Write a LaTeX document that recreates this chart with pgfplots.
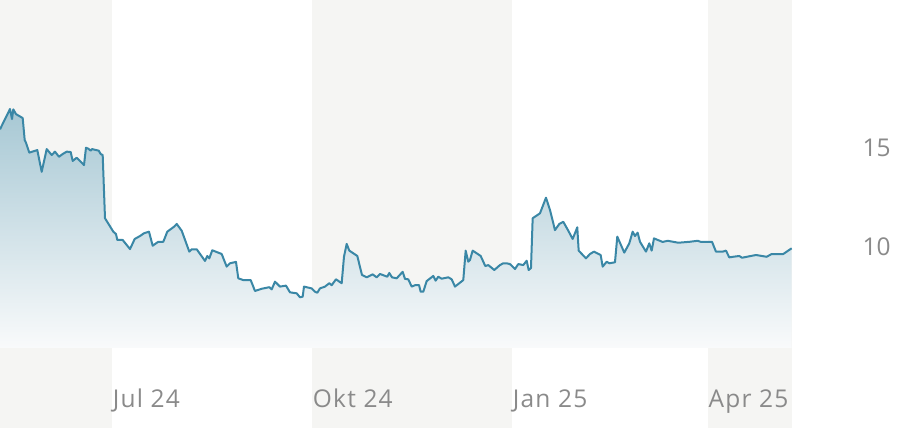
\documentclass[border=0pt]{standalone}
\usepackage{pgfplots}
\pgfplotsset{compat=1.18}
\usepackage{pgfplotstable}
\usepackage{fontspec}
\setmainfont{Open Sans}
\newfontfamily\xlabfont{Open Sans}[LetterSpace=5]
\definecolor{band}{HTML}{F5F5F3}
\definecolor{linec}{HTML}{3A87A6}
\definecolor{filltop}{HTML}{A7C8D4}
\definecolor{fillbot}{HTML}{F9FAFB}
\definecolor{lab}{HTML}{8A8A8A}
\pgfplotsset{
  frame/.style={
    at={(0pt,80pt)}, anchor=south west,
    scale only axis, width=792.4pt, height=348pt,
    xmin=-51.52, xmax=313, ymin=4.853, ymax=22.465,
    clip=false,
    axis line style={draw=none},
    tick style={draw=none},
    major tick length=0pt,
  },
}
% day offset from 1 Jul 2024, price
\pgfplotstableread{
d v
-51.52 15.92
-46.92 16.95
-46.00 16.44
-45.40 16.93
-44.16 16.69
-41.08 16.49
-40.16 15.38
-39.56 15.24
-38.04 14.74
-34.36 14.87
-32.34 13.77
-30.04 14.92
-27.74 14.62
-26.22 14.79
-24.38 14.53
-22.68 14.67
-20.84 14.79
-19.00 14.77
-18.08 14.32
-16.24 14.48
-12.88 14.11
-11.96 14.99
-10.90 14.94
-9.80 14.84
-9.20 14.92
-6.12 14.84
-5.20 14.67
-4.28 14.62
-3.22 11.42
0.60 10.74
1.84 10.62
2.44 10.32
4.92 10.32
8.28 9.86
10.44 10.37
12.88 10.52
14.72 10.66
17.02 10.74
18.72 10.03
21.30 10.23
23.60 10.23
25.44 10.74
28.52 10.99
29.76 11.13
32.06 10.79
35.56 9.73
36.66 9.85
38.96 9.85
42.78 9.26
43.84 9.51
44.76 9.39
46.14 9.80
50.46 9.61
52.76 8.97
54.28 9.14
57.04 9.21
58.10 8.38
60.40 8.29
63.80 8.29
65.78 7.74
68.86 7.85
72.36 7.93
73.46 7.82
74.98 8.21
77.28 7.96
80.04 8.01
81.88 7.67
84.96 7.62
86.48 7.42
87.72 7.45
88.32 7.96
91.86 7.87
93.38 7.70
94.44 7.65
95.68 7.87
97.98 7.96
99.96 8.13
101.06 8.03
103.04 8.33
105.66 8.13
106.72 9.47
107.96 10.12
109.16 9.78
112.84 9.51
115.00 8.55
117.16 8.43
119.92 8.58
121.76 8.43
123.28 8.60
126.64 8.46
127.56 8.65
128.80 8.43
130.96 8.38
133.72 8.71
134.78 8.35
136.30 8.33
137.86 7.96
139.38 8.03
141.22 8.04
142.00 7.70
143.20 7.70
144.76 8.24
147.80 8.50
148.90 8.26
150.10 8.46
151.66 8.36
154.70 8.43
156.26 8.33
157.78 7.96
161.60 8.29
162.70 9.78
163.90 9.22
164.68 9.31
165.92 9.78
169.60 9.51
171.72 9.00
173.10 9.05
175.86 8.80
178.48 9.05
180.00 9.14
181.56 9.14
183.08 9.10
185.38 8.85
186.90 9.10
189.20 9.05
190.76 9.27
191.68 8.80
192.74 8.90
193.52 11.42
196.88 11.67
199.64 12.46
201.48 11.84
203.78 10.82
205.76 11.13
207.60 11.24
209.90 10.79
211.92 10.37
214.04 10.96
214.68 9.78
218.04 9.39
219.88 9.61
221.72 9.73
224.80 9.56
225.72 8.97
227.56 9.22
228.76 9.14
231.38 9.19
232.44 10.49
235.66 9.68
237.96 10.15
239.52 10.74
240.58 10.52
241.82 10.69
242.88 10.23
245.64 9.73
247.16 10.15
248.26 9.78
249.32 10.40
253.32 10.22
255.62 10.28
260.50 10.18
265.88 10.23
269.42 10.28
270.94 10.22
276.00 10.23
277.84 9.73
280.92 9.73
282.44 9.78
283.96 9.44
285.80 9.47
288.56 9.51
289.80 9.42
296.24 9.56
301.16 9.47
303.46 9.61
308.80 9.61
312.66 9.90
}\price
\begin{document}
\begin{tikzpicture}
\path[use as bounding box] (0,0) rectangle (902pt,428pt);
% background quarter bands
\begin{axis}[frame, xtick=\empty, ytick=\empty]
\fill[band] (axis cs:-51.52,0.805) rectangle (axis cs:0,22.465);
\fill[band] (axis cs:92,0.805) rectangle (axis cs:184,22.465);
\fill[band] (axis cs:274,0.805) rectangle (axis cs:313,22.465);
\end{axis}
% price series and labels
\begin{axis}[
  frame,
  xtick={0,92,184,274},
  xticklabels={Jul 24,Okt 24,Jan 25,Apr 25},
  ytick={10,15},
  yticklabel pos=right,
  /pgf/number format/assume math mode=true,
  xticklabel style={anchor=base west, inner sep=0pt, yshift=-59.7pt, xshift=0.7pt, font=\xlabfont\fontsize{24.5}{24.5}\selectfont, text=lab},
  yticklabel style={anchor=base west, inner sep=0pt, yshift=-9.2pt, xshift=70pt, font=\fontsize{24.5}{24.5}\selectfont, text=lab},
]
\addplot[draw=none, top color=filltop, bottom color=fillbot] table[x=d,y=v] {\price} \closedcycle;
\addplot[linec, line width=2pt, line join=round, mark=none] table[x=d,y=v] {\price};
\end{axis}
\end{tikzpicture}
\end{document}
